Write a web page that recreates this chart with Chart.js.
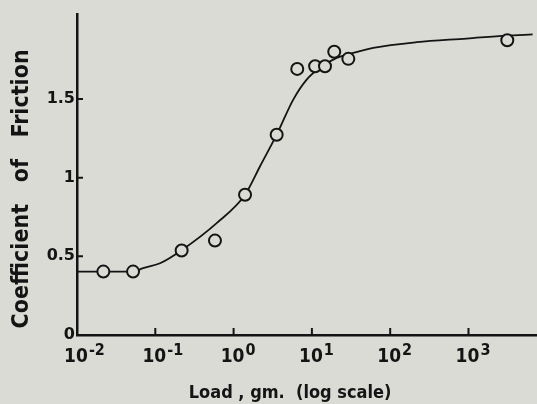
<!DOCTYPE html>
<html>
<head>
<meta charset="utf-8">
<script src="https://cdn.jsdelivr.net/npm/chart.js@4/dist/chart.umd.min.js"></script>
<style>
  html, body { margin: 0; padding: 0; background: #d9dbd4; }
  #wrap { width: 537px; height: 404px; }
  canvas { display: block; }
</style>
</head>
<body>
<div id="wrap"><canvas id="c" width="537" height="404"></canvas></div>
<script>
// ---- data ----
const loadPts     = [0.0217, 0.052, 0.217, 0.578, 1.40, 3.55, 6.5, 11, 14.7, 19.3, 29.2, 3130];
const frictionPts = [0.403, 0.403, 0.537, 0.600, 0.891, 1.273, 1.691, 1.708, 1.708, 1.80, 1.755, 1.873];

const curveLoad     = [0.01, 0.052, 0.070, 0.115, 0.217, 0.608, 1.40, 2.17, 3.55, 5.78, 8.58, 12.7, 20.7, 33.8, 60.8, 218, 948, 3077, 6600];
const curveFriction = [0.403, 0.403, 0.425, 0.456, 0.539, 0.711, 0.891, 1.071, 1.273, 1.496, 1.623, 1.698, 1.761, 1.793, 1.825, 1.861, 1.884, 1.903, 1.91];

const xTickValues = [0.01, 0.1, 1, 10, 100, 1000];
const xTickBase   = '10';
const xTickExps   = ['-2', '-1', '0', '1', '2', '3'];
const yTickValues = [0, 0.5, 1, 1.5];
const yTickLabels = ['0', '0.5', '1', '1.5'];

const xTitle = 'Load , gm.  (log scale)      ';
const yTitle = 'Coefficient   of   Friction    ';

const INK = '#141414';
const BG = '#d9dbd4';

const toXY = (xs, ys) => xs.map((x, i) => ({ x, y: ys[i] }));

const tickPlugin = {
  id: 'handTicks',
  afterDraw(chart) {
    const { ctx, chartArea: a, scales: { x, y } } = chart;
    ctx.save();
    ctx.strokeStyle = INK;
    ctx.lineWidth = 2;
    ctx.beginPath();
    xTickValues.forEach((v, i) => {
      if (i === 0) return;
      const px = x.getPixelForValue(v);
      ctx.moveTo(px, a.bottom);
      ctx.lineTo(px, a.bottom - 7);
    });
    yTickValues.forEach((v, i) => {
      if (i === 0) return;
      const py = y.getPixelForValue(v);
      ctx.moveTo(a.left, py);
      ctx.lineTo(a.left + 6, py);
    });
    ctx.stroke();

    ctx.fillStyle = INK;
    ctx.textBaseline = 'alphabetic';
    const baseFont = 'bold 19px "Liberation Sans Narrow", "DejaVu Sans Condensed", sans-serif';
    const expFont  = 'bold 16px "Liberation Sans Narrow", "DejaVu Sans Condensed", sans-serif';
    xTickValues.forEach((v, i) => {
      const px = x.getPixelForValue(v);
      ctx.font = baseFont;
      const bw = ctx.measureText(xTickBase).width;
      ctx.textAlign = 'left';
      const left = px - bw / 2 - 1;
      ctx.fillText(xTickBase, left, 362);
      ctx.font = expFont;
      ctx.fillText(xTickExps[i], left + bw + 1, 355);
    });
    ctx.restore();
  }
};

new Chart(document.getElementById('c'), {
  type: 'scatter',
  data: {
    datasets: [
      {
        label: 'measured',
        data: toXY(loadPts, frictionPts),
        pointRadius: 6,
        pointHoverRadius: 6,
        pointBorderWidth: 2,
        pointBorderColor: INK,
        pointBackgroundColor: BG,
        showLine: false,
        order: 0
      },
      {
        label: 'curve',
        data: toXY(curveLoad, curveFriction),
        showLine: true,
        borderColor: INK,
        borderWidth: 1.8,
        pointRadius: 0,
        cubicInterpolationMode: 'monotone',
        fill: false,
        order: 1
      }
    ]
  },
  options: {
    responsive: false,
    animation: false,
    events: [],
    layout: { autoPadding: false, padding: { top: 14, right: 0, bottom: 0, left: 0 } },
    plugins: { legend: { display: false }, tooltip: { enabled: false } },
    scales: {
      x: {
        type: 'logarithmic',
        min: 0.01,
        max: 7500,
        afterBuildTicks: s => { s.ticks = xTickValues.map(v => ({ value: v })); },
        afterFit: s => { s.height = 69; },
        grid: { display: false, drawTicks: false },
        border: { display: true, color: INK, width: 2.5 },
        ticks: { display: false },
        title: {
          display: true,
          text: xTitle,
          color: INK,
          font: { family: '"DejaVu Sans Condensed", "DejaVu Sans", sans-serif', size: 18, weight: 'bold', lineHeight: 1 },
          padding: { top: 0, bottom: 2 }
        }
      },
      y: {
        type: 'linear',
        min: 0,
        max: 2.04,
        afterBuildTicks: s => { s.ticks = yTickValues.map(v => ({ value: v })); },
        afterFit: s => { s.width = 77; },
        grid: { display: false, drawTicks: false },
        border: { display: true, color: INK, width: 2.5 },
        ticks: {
          color: INK,
          padding: 2,
          font: { family: '"DejaVu Sans", sans-serif', size: 16, weight: 'bold' },
          callback: (v) => { const i = yTickValues.indexOf(v); return i >= 0 ? yTickLabels[i] : ''; }
        },
        title: {
          display: true,
          text: yTitle,
          color: INK,
          font: { family: '"DejaVu Sans Condensed", "DejaVu Sans", sans-serif', size: 23, weight: 'bold', lineHeight: 1 },
          padding: { top: 11, bottom: 0 }
        }
      }
    }
  },
  plugins: [tickPlugin]
});
</script>
</body>
</html>
